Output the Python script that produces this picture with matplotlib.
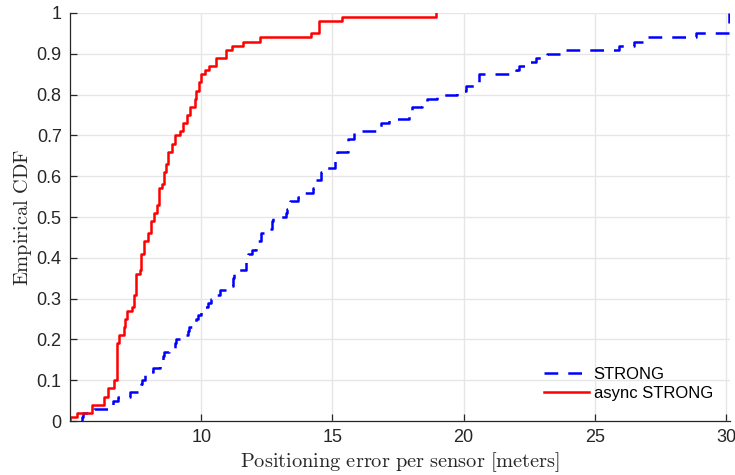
import matplotlib
matplotlib.use('Agg')
import matplotlib.pyplot as plt

# empirical CDF breakpoints (x = error in m, level after the step)
strong_x = [5.44, 5.44, 5.50, 5.90, 6.55, 6.62, 6.84, 7.30, 7.72, 7.74, 7.85, 8.17, 8.42,
            8.55, 8.60, 8.76, 9.00, 9.05, 9.18, 9.50, 9.55, 9.63, 9.82, 9.88, 10.00,
            10.05, 10.26, 10.39, 10.42, 10.70, 11.08, 11.20, 11.25, 11.40, 11.69, 11.72,
            11.75, 11.78, 11.95, 12.10, 12.29, 12.48, 12.71, 12.75, 13.24, 13.26, 13.37,
            13.68, 13.94, 14.25, 14.32, 14.57, 14.78, 15.08, 15.16, 15.58, 15.84, 16.80,
            16.85, 17.17, 17.93, 18.05, 18.43, 18.62, 19.00, 19.76, 20.08, 20.59, 21.98,
            22.10, 22.36, 22.74, 23.19, 23.88, 25.93, 26.50, 26.99, 28.85, 30.10]
strong_y = [0.00, 0.01, 0.02, 0.03, 0.04, 0.05, 0.06, 0.07, 0.09, 0.10, 0.12, 0.13, 0.14,
            0.16, 0.17, 0.18, 0.19, 0.20, 0.21, 0.22, 0.23, 0.24, 0.25, 0.26, 0.27,
            0.28, 0.29, 0.30, 0.31, 0.32, 0.33, 0.35, 0.36, 0.37, 0.38, 0.39,
            0.40, 0.41, 0.42, 0.44, 0.46, 0.47, 0.49, 0.50, 0.51, 0.52, 0.54,
            0.55, 0.56, 0.57, 0.59, 0.61, 0.62, 0.64, 0.66, 0.69, 0.71, 0.72,
            0.73, 0.74, 0.75, 0.77, 0.78, 0.79, 0.80, 0.81, 0.82, 0.85, 0.86,
            0.87, 0.88, 0.89, 0.90, 0.91, 0.92, 0.93, 0.94, 0.95, 1.00]

async_x = [5.00, 5.00, 5.25, 5.85, 6.30, 6.46, 6.68, 6.78, 6.80, 6.87, 7.04, 7.09, 7.19,
           7.35, 7.45, 7.51, 7.66, 7.72, 7.83, 7.98, 8.10, 8.19, 8.30, 8.38, 8.49, 8.59,
           8.65, 8.74, 8.87, 8.99, 9.18, 9.31, 9.44, 9.56, 9.75, 9.82, 9.92, 10.00,
           10.13, 10.28, 10.58, 10.96, 11.19, 11.59, 12.25, 14.19, 14.50, 15.37, 18.94]
async_y = [0.00, 0.01, 0.02, 0.04, 0.06, 0.08, 0.10, 0.12, 0.19, 0.21, 0.23, 0.25, 0.27,
           0.28, 0.31, 0.36, 0.37, 0.41, 0.44, 0.46, 0.49, 0.51, 0.53, 0.57, 0.58, 0.61,
           0.63, 0.66, 0.68, 0.70, 0.71, 0.73, 0.75, 0.77, 0.79, 0.81, 0.83, 0.85,
           0.86, 0.87, 0.89, 0.91, 0.92, 0.93, 0.94, 0.95, 0.98, 0.99, 1.00]

x_ticks = [10, 15, 20, 25, 30]
y_ticks = [0, 0.1, 0.2, 0.3, 0.4, 0.5, 0.6, 0.7, 0.8, 0.9, 1]
y_tick_labels = ['0', '0.1', '0.2', '0.3', '0.4', '0.5', '0.6', '0.7', '0.8', '0.9', '1']
series_names = ['STRONG', 'async STRONG']

plt.rcParams['font.family'] = ['Liberation Sans', 'DejaVu Sans']
plt.rcParams['mathtext.fontset'] = 'cm'

fig = plt.figure(figsize=(7.35, 4.75), dpi=100)
ax = fig.add_axes([70 / 735, 54 / 475, 660 / 735, 408 / 475])

ax.step(strong_x, strong_y, where='post', color='#0000ff', lw=1.8,
        dashes=(5.5, 4), label=series_names[0])
ax.step(async_x, async_y, where='post', color='#ff0000', lw=1.8,
        label=series_names[1])

ax.set_xlim(5.0, 30.15)
ax.set_ylim(0, 1)
ax.set_xticks(x_ticks)
ax.set_yticks(y_ticks)
ax.set_yticklabels(y_tick_labels)
ax.grid(True, color='#e6e6e6', lw=1.0)
ax.set_axisbelow(True)

for side in ['top', 'right']:
    ax.spines[side].set_visible(False)
for side in ['left', 'bottom']:
    ax.spines[side].set_color('#262626')
    ax.spines[side].set_linewidth(0.9)
ax.tick_params(direction='in', length=5, width=0.9, colors='#262626',
               labelsize=13, pad=6)

ax.set_xlabel(r'$\mathrm{Positioning\ error\ per\ sensor\ [meters]}$',
              fontsize=14.7, color='#262626', labelpad=3)
ax.set_ylabel(r'$\mathrm{Empirical\ CDF}$', fontsize=14.7, color='#262626', labelpad=2)

ax.legend(loc='lower right', bbox_to_anchor=(0.997, 0.013), frameon=False,
          fontsize=12, handlelength=2.7, handletextpad=0.3, labelspacing=0.25)

fig.savefig('out.png', dpi=100)
